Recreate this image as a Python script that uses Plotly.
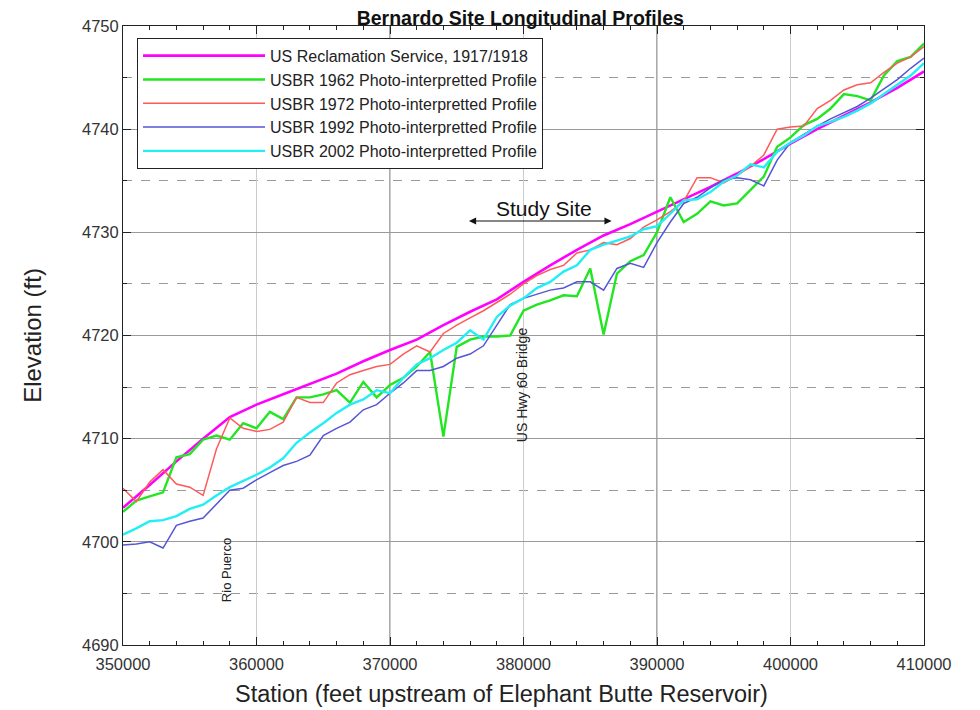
import plotly.graph_objects as go

stations = list(range(350000, 410001, 1000))
stations_1918 = list(range(350000, 410001, 2000))

elev_1918 = [4703.3, 4705.5, 4707.8, 4710.0, 4712.1, 4713.3, 4714.3, 4715.3, 4716.3, 4717.5,
             4718.6, 4719.6, 4721.0, 4722.3, 4723.5, 4725.2, 4726.8, 4728.3, 4729.7, 4730.8,
             4732.0, 4733.2, 4734.4, 4735.7, 4737.1, 4738.6, 4740.0, 4741.3, 4742.6, 4744.0,
             4745.6]

elev_1962 = [4702.9, 4704.0, 4704.4, 4704.8, 4708.2, 4708.5, 4709.9, 4710.3, 4709.9, 4711.5,
             4711.0, 4712.6, 4711.9, 4714.0, 4714.0, 4714.3, 4714.7, 4713.5, 4715.5, 4714.0,
             4715.2, 4715.9, 4717.0, 4718.4, 4710.2, 4718.9, 4719.6, 4719.9, 4719.9, 4720.0,
             4722.4, 4723.0, 4723.4, 4723.9, 4723.8, 4726.5, 4720.1, 4726.0, 4727.2, 4727.8,
             4730.0, 4733.4, 4731.0, 4731.8, 4733.0, 4732.6, 4732.8, 4734.1, 4735.4, 4738.3,
             4739.2, 4740.4, 4741.0, 4742.0, 4743.4, 4743.2, 4742.8, 4745.2, 4746.6, 4747.0,
             4748.3]

elev_1972 = [4705.2, 4703.9, 4705.8, 4707.0, 4705.6, 4705.3, 4704.5, 4709.0, 4712.0, 4711.0,
             4710.7, 4710.9, 4711.6, 4714.0, 4713.5, 4713.5, 4715.4, 4716.2, 4716.6, 4717.0,
             4717.2, 4718.2, 4719.0, 4718.4, 4720.2, 4721.0, 4721.7, 4722.4, 4723.2, 4724.0,
             4725.0, 4725.8, 4726.4, 4726.8, 4728.0, 4728.3, 4729.0, 4728.8, 4729.4, 4730.5,
             4731.2, 4732.0, 4733.0, 4735.3, 4735.3, 4734.8, 4735.5, 4736.4, 4737.5, 4740.0,
             4740.2, 4740.3, 4742.0, 4742.8, 4743.8, 4744.3, 4744.5, 4745.5, 4746.4, 4747.0,
             4748.0]

elev_1992 = [4699.7, 4699.8, 4700.0, 4699.4, 4701.6, 4702.0, 4702.3, 4703.6, 4705.0, 4705.2,
             4706.0, 4706.7, 4707.4, 4707.8, 4708.4, 4710.3, 4711.0, 4711.6, 4712.8, 4713.3,
             4714.4, 4715.4, 4716.6, 4716.6, 4717.0, 4717.8, 4718.2, 4719.0, 4721.0, 4723.0,
             4723.6, 4724.0, 4724.4, 4724.6, 4725.2, 4725.2, 4724.4, 4726.5, 4727.0, 4726.6,
             4729.0, 4731.0, 4732.8, 4733.4, 4734.3, 4735.1, 4735.3, 4735.1, 4734.5, 4737.0,
             4738.7, 4739.5, 4740.3, 4741.0, 4741.6, 4742.2, 4743.0, 4743.9, 4744.8, 4745.9,
             4746.9]

elev_2002 = [4700.7, 4701.3, 4702.0, 4702.1, 4702.5, 4703.2, 4703.6, 4704.5, 4705.3, 4705.9,
             4706.5, 4707.2, 4708.1, 4709.6, 4710.6, 4711.5, 4712.5, 4713.3, 4713.8, 4714.7,
             4714.4, 4715.9, 4717.2, 4717.8, 4718.6, 4719.3, 4720.5, 4719.6, 4721.8, 4722.9,
             4723.6, 4724.6, 4725.2, 4726.2, 4726.8, 4728.3, 4728.8, 4729.2, 4729.6, 4730.3,
             4730.6, 4731.8, 4733.1, 4733.2, 4733.9, 4734.9, 4735.5, 4736.6, 4736.3, 4737.8,
             4738.7, 4739.4, 4740.3, 4740.7, 4741.2, 4741.8, 4742.5, 4743.4, 4744.3, 4745.2,
             4746.4]

series_names = ["US Reclamation Service, 1917/1918",
                "USBR 1962 Photo-interpretted Profile",
                "USBR 1972 Photo-interpretted Profile",
                "USBR 1992 Photo-interpretted Profile",
                "USBR 2002 Photo-interpretted Profile"]
series_colors = ["#ff00ff", "#22e622", "#ff5a5a", "#5555d5", "#22eef5"]
series_widths = [2.6, 2.4, 1.5, 1.5, 2.4]

dark_grid_x = [370000, 390000]

FONT = "Liberation Sans, Arial, sans-serif"

fig = go.Figure()
xs_list = [stations_1918, stations, stations, stations, stations]
ys_list = [elev_1918, elev_1962, elev_1972, elev_1992, elev_2002]
for name, col, w, xs, ys in zip(series_names, series_colors, series_widths, xs_list, ys_list):
    fig.add_trace(go.Scatter(x=xs, y=ys, mode="lines", name=name,
                             line=dict(color=col, width=w)))

for gx in dark_grid_x:
    fig.add_shape(type="line", xref="x", yref="paper", x0=gx, x1=gx, y0=0, y1=1,
                  line=dict(color="#555555", width=1), layer="below")

# Study site arrow
fig.add_annotation(x=386600, y=4731.1, ax=375800, ay=4731.1, xref="x", yref="y",
                   axref="x", ayref="y", text="", showarrow=True, arrowhead=2,
                   arrowside="end+start", arrowsize=1.2, arrowwidth=1.2, arrowcolor="#111")
fig.add_annotation(x=381500, y=4732.3, xref="x", yref="y", text="Study Site",
                   showarrow=False, font=dict(family=FONT, size=21, color="#111"))
fig.add_annotation(x=357750, y=4697.3, xref="x", yref="y", text="Rio Puerco",
                   showarrow=False, textangle=-90, font=dict(family=FONT, size=13, color="#222"))
fig.add_annotation(x=379900, y=4715.2, xref="x", yref="y", text="US Hwy 60 Bridge",
                   showarrow=False, textangle=-90, font=dict(family=FONT, size=14, color="#222"))
# x-axis title (offset to the left as in the reference)
fig.add_annotation(x=0.472, y=0, xref="paper", yref="paper", yanchor="middle",
                   yshift=-49, text="Station (feet upstream of Elephant Butte Reservoir)",
                   showarrow=False, font=dict(family=FONT, size=23.5, color="#222"))

fig.update_layout(
    width=972, height=702,
    margin=dict(l=115, r=56, t=18, b=65),
    paper_bgcolor="white", plot_bgcolor="white",
    title=dict(text="<b>Bernardo Site Longitudinal Profiles</b>", x=0.527, xanchor="center",
               y=1 - 10.5 / 702, yanchor="middle", pad=dict(t=0, b=0),
               font=dict(family=FONT, size=19.5, color="#111")),
    font=dict(family=FONT, color="#222"),
    showlegend=True,
    legend=dict(x=0.0175, y=0.981, xanchor="left", yanchor="top",
                bgcolor="white", bordercolor="#222", borderwidth=1,
                font=dict(family=FONT, size=16, color="#222"),
                itemwidth=122, tracegroupgap=0),
    xaxis=dict(range=[350000, 410000], dtick=10000, tick0=350000, tickformat="d",
               automargin=False,
               showgrid=True, gridcolor="#cccccc", gridwidth=1,
               ticks="inside", ticklen=8, tickcolor="#222",
               minor=dict(dtick=2000, ticks="inside", ticklen=4, tickcolor="#222", showgrid=False),
               showline=True, linecolor="#222", linewidth=1, mirror="ticks",
               zeroline=False, ticklabelstandoff=4,
               tickfont=dict(family=FONT, size=16.5, color="#333")),
    yaxis=dict(range=[4690, 4750], dtick=10, tick0=4690,
               automargin=False,
               showgrid=True, gridcolor="#9a9a9a", gridwidth=1,
               ticks="inside", ticklen=8, tickcolor="#222",
               minor=dict(dtick=5, ticks="inside", ticklen=4, tickcolor="#222",
                          showgrid=True, gridcolor="#9a9a9a", griddash="dash", gridwidth=1),
               showline=True, linecolor="#222", linewidth=1, mirror="ticks",
               zeroline=False,
               tickfont=dict(family=FONT, size=16.5, color="#333"),
               title=dict(text="Elevation (ft)", font=dict(family=FONT, size=24, color="#222"),
                          standoff=33)),
)

fig.write_html("out.html")
